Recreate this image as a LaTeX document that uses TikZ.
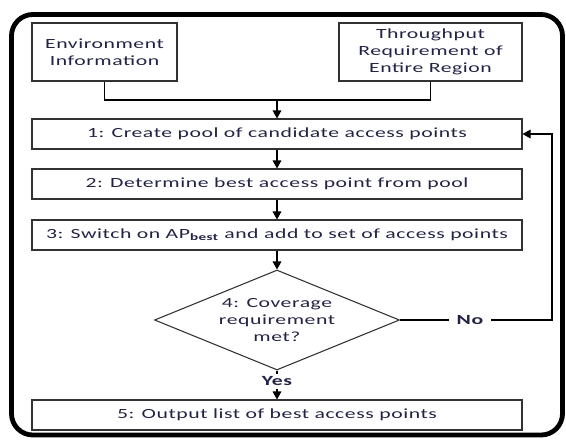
\documentclass[tikz,border=0pt]{standalone}
\usepackage{fontspec}
\setmainfont{Carlito}[FakeStretch=1.55,LetterSpace=4]
\usetikzlibrary{arrows.meta,shapes.geometric}
\definecolor{textc}{RGB}{35,35,70}
\definecolor{boxc}{RGB}{50,50,50}
\begin{document}
\begin{tikzpicture}[x=0.75pt,y=-0.75pt,
  font=\fontsize{10.5}{12.5}\selectfont\color{textc},
  box/.style={draw=boxc,line width=0.8pt,rectangle,inner sep=0pt,align=center,text=textc},
  stepbox/.style={box,minimum width=490*0.75pt,minimum height=30*0.75pt},
  conn/.style={draw=black,line width=0.8pt},
  arr/.style={conn,-{Triangle[length=6pt,width=6.5pt]}},
  lbl/.style={fill=white,inner ysep=2pt,inner xsep=6pt,font=\fontsize{10.5}{12.5}\selectfont\bfseries\color{textc}}]
\useasboundingbox (0,0) rectangle (566,439);
\fill[white] (0,0) rectangle (566,439);
\draw[line width=3.6pt,rounded corners=16pt] (11.5,14.5) rectangle (562.5,435);
\node[box,minimum width=145*0.75pt,minimum height=58*0.75pt] (env) at (104.5,52) {Environment\\Information};
\node[box,minimum width=183*0.75pt,minimum height=58*0.75pt] (thr) at (430.5,52) {Throughput\\Requirement of\\Entire Region};
\node[stepbox] (b1) at (277,134) {1: Create pool of candidate access points};
\node[stepbox] (b2) at (277,184) {2: Determine best access point from pool};
\node[stepbox] (b3) at (277,235) {3: Switch on AP\textsubscript{\bfseries best} and add to set of access points};
\node[box,shape=diamond,aspect=2.45,minimum width=245*0.75pt,minimum height=100*0.75pt] (dia) at (277,320) {4: Coverage\\requirement\\met?};
\node[stepbox] (b5) at (277,415) {5: Output list of best access points};
\coordinate (m) at (277,100);
\coordinate (fb) at (552,320);
\draw[conn] (env.south) |- (m);
\draw[conn] (thr.south) |- (m);
\draw[arr] (m) -- (b1.north);
\draw[arr] (b1) -- (b2);
\draw[arr] (b2) -- (b3);
\draw[arr] (b3) -- (dia.north);
\draw[arr] (dia.south) -- node[lbl,inner xsep=1pt,pos=0.37]{Yes} (b5.north);
\draw[arr] (dia.east) -- node[lbl,pos=0.46]{No} (fb) |- (b1.east);
\end{tikzpicture}
\end{document}
